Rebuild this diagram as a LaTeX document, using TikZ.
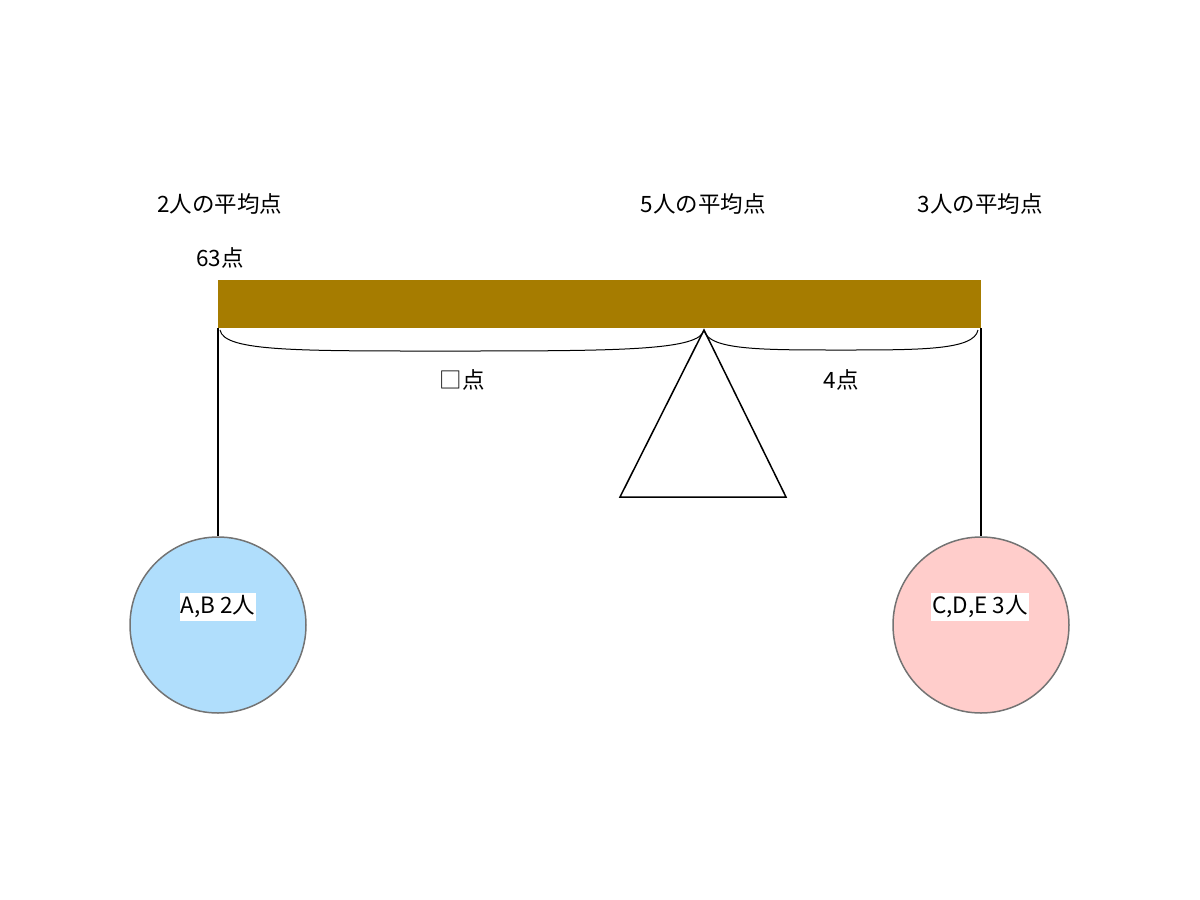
\documentclass[tikz,border=0pt]{standalone}
\usepackage{fontspec}
\setmainfont{Noto Sans CJK JP}
\definecolor{bar}{HTML}{A67C00}
\definecolor{lblue}{HTML}{B0DEFC}
\definecolor{lpink}{HTML}{FFCDCB}
\begin{document}
\begin{tikzpicture}[x=1pt,y=-1pt,
  lbl/.style={font=\fontsize{22.5}{26}\selectfont,inner sep=1pt},
  ball/.style={circle,draw=gray!90!black,line width=1.5pt,minimum size=176pt,inner sep=0pt},
  tag/.style={lbl,fill=white,inner xsep=1pt,inner ysep=3pt}]
\useasboundingbox (0,0) rectangle (1200,900);
\fill[bar] (218,280) rectangle (981,328);
\coordinate (bl) at (218,328); \coordinate (br) at (981,328);
\coordinate (apex) at (704,330);
\node[ball,fill=lblue] (L) at (218,625) {};
\node[ball,fill=lpink] (R) at (981,625) {};
\draw[line width=1.5pt] (bl) -- (L.north);
\draw[line width=1.5pt] (br) -- (R.north);
\draw[line width=1.5pt,line join=miter] (apex) -- (620,497) -- (786,497) -- cycle;
\draw[line width=1pt] (220,330) .. controls (224,352) and (300,351) .. (462,351) .. controls (624,351) and (700,350) .. (apex);
\draw[line width=1pt] (apex) .. controls (708,350) and (760,350) .. (841,350) .. controls (922,350) and (974,350) .. (978,330);
\node[lbl] (t1) at (220,204) {2人の平均点};
\node[lbl] (t2) at (703,204) {5人の平均点};
\node[lbl] (t3) at (980,204) {3人の平均点};
\node[lbl] (t4) at (220,258) {63点};
\node[lbl] (t5) at (462,380) {□点};
\node[lbl] (t6) at (841,380) {4点};
\node[tag] (a) at (218,607) {A,B 2人};
\node[tag] (c) at (980,607) {C,D,E 3人};
\end{tikzpicture}
\end{document}
